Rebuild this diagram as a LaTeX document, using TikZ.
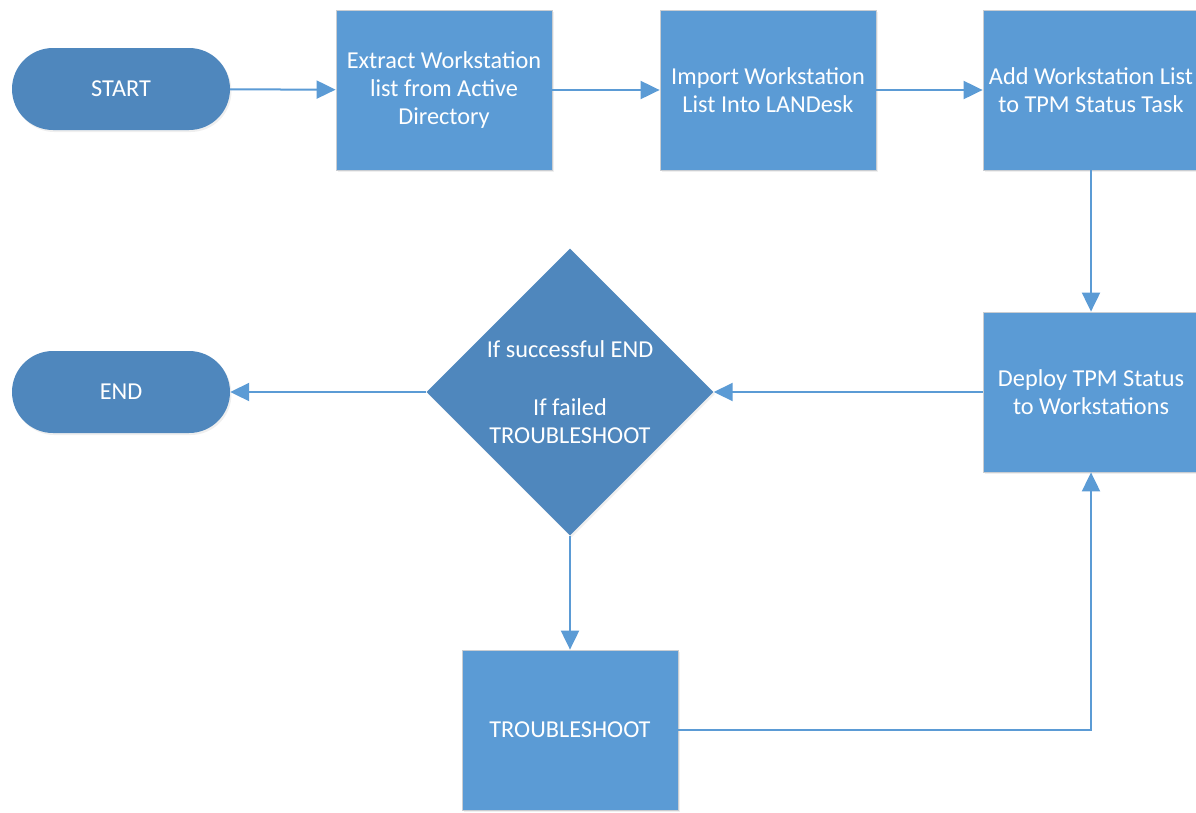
\documentclass[tikz,border=0pt]{standalone}
\usepackage{fontspec}
\setmainfont{Carlito}
\usetikzlibrary{arrows.meta,shapes.geometric,shadows}
\definecolor{boxblue}{HTML}{5B9BD5}
\definecolor{darkblue}{HTML}{4F87BD}
\definecolor{edgegray}{HTML}{C9CDD2}
\definecolor{arrowblue}{HTML}{5B9BD5}
\begin{document}
\begin{tikzpicture}[x=1pt,y=-1pt,
  txt/.style={text=white, align=center, font=\fontsize{24.3}{28}\selectfont},
  procbox/.style={txt, rectangle, fill=boxblue, draw=edgegray, line width=0.8pt,
    minimum width=216pt, minimum height=160pt, inner sep=0pt,
    drop shadow={opacity=0.12, shadow xshift=1.5pt, shadow yshift=-2pt}},
  term/.style={txt, rectangle, rounded corners=41pt, fill=darkblue, draw=none,
    minimum width=218pt, minimum height=82pt, inner sep=0pt,
    drop shadow={opacity=0.12, shadow xshift=1.5pt, shadow yshift=-2pt}},
  decision/.style={txt, diamond, aspect=1, fill=darkblue, draw=none,
    minimum width=287pt, minimum height=287pt, inner sep=0pt,
    drop shadow={opacity=0.12, shadow xshift=1.5pt, shadow yshift=-2pt}},
  arr/.style={draw=arrowblue, line width=2pt,
    -{Triangle[length=19pt,width=18pt]}}
]
\useasboundingbox (0,0) rectangle (1196,812);
\fill[white] (0,0) rectangle (1196,812);

\node[term] (start) at (121,89) {START};
\node[procbox] (b1) at (444,90) {Extract Workstation\\list from Active\\Directory};
\node[procbox] (b2) at (768,90) {Import Workstation\\List Into LANDesk};
\node[procbox] (b3) at (1091,90) {Add Workstation List\\to TPM Status Task};
\node[procbox] (deploy) at (1091,392) {Deploy TPM Status\\to Workstations};
\node[decision] (dec) at (570,392) {If successful END\\[30pt]If failed\\TROUBLESHOOT};
\node[term] (endn) at (121,392) {END};
\node[procbox] (trouble) at (570,730) {TROUBLESHOOT};

\draw[arr] (start) -- (b1);
\draw[arr] (b1) -- (b2);
\draw[arr] (b2) -- (b3);
\draw[arr] (b3) -- (deploy);
\draw[arr] (deploy) -- (dec);
\draw[arr] (dec) -- (endn);
\draw[arr] (dec) -- (trouble);
\draw[arr] (trouble.east) -| (deploy.south);
\end{tikzpicture}
\end{document}
